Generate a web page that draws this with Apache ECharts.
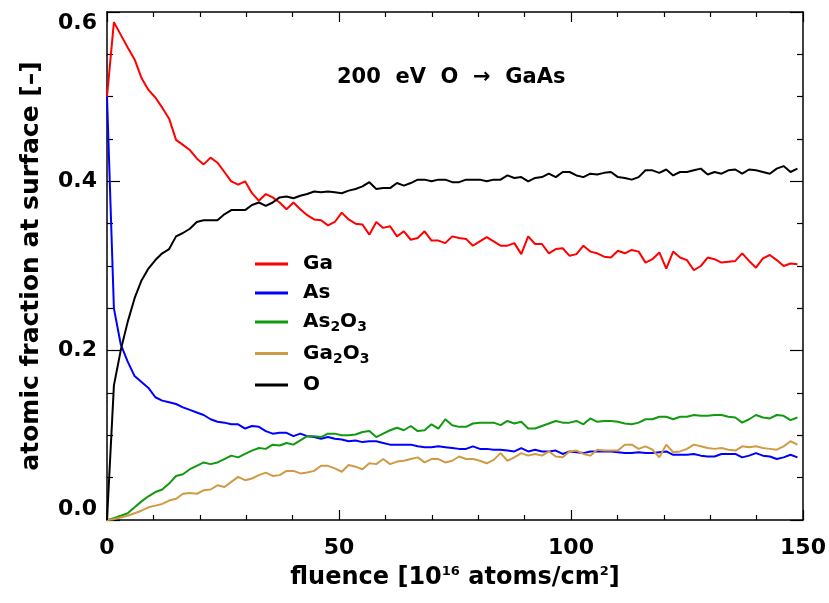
<!DOCTYPE html>
<html>
<head>
<meta charset="utf-8">
<script src="https://cdn.jsdelivr.net/npm/echarts@6/dist/echarts.min.js"></script>
<style>
  html, body { margin: 0; padding: 0; background: #fff; }
  #chart { width: 829px; height: 603px; }
</style>
</head>
<body>
<div id="chart"></div>
<script>
// fluence grid [10^16 atoms/cm^2], one value per output step
const fluence = [
  0, 1.49, 2.98, 4.46, 5.95, 7.44, 8.93, 10.42, 11.9, 13.39,
  14.88, 16.37, 17.86, 19.34, 20.83, 22.32, 23.81, 25.3, 26.78, 28.27,
  29.76, 31.25, 32.74, 34.22, 35.71, 37.2, 38.69, 40.18, 41.66, 43.15,
  44.64, 46.13, 47.62, 49.1, 50.59, 52.08, 53.57, 55.06, 56.54, 58.03,
  59.52, 61.01, 62.5, 63.98, 65.47, 66.96, 68.45, 69.94, 71.42, 72.91,
  74.4, 75.89, 77.38, 78.86, 80.35, 81.84, 83.33, 84.82, 86.3, 87.79,
  89.28, 90.77, 92.26, 93.74, 95.23, 96.72, 98.21, 99.7, 101.18, 102.67,
  104.16, 105.65, 107.14, 108.62, 110.11, 111.6, 113.09, 114.58, 116.06, 117.55,
  119.04, 120.53, 122.02, 123.5, 124.99, 126.48, 127.97, 129.46, 130.94, 132.43,
  133.92, 135.41, 136.9, 138.38, 139.87, 141.36, 142.85, 144.34, 145.82, 147.31,
  148.8
]

const gaFrac = [
  0.500, 0.588, 0.573, 0.558, 0.544, 0.522, 0.508, 0.499, 0.487, 0.474,
  0.449, 0.443, 0.437, 0.427, 0.420, 0.428, 0.422, 0.411, 0.400, 0.396,
  0.400, 0.386, 0.377, 0.385, 0.381, 0.375, 0.367, 0.375, 0.367, 0.360,
  0.355, 0.354, 0.348, 0.352, 0.363, 0.355, 0.350, 0.349, 0.337, 0.352,
  0.345, 0.347, 0.335, 0.341, 0.331, 0.333, 0.341, 0.330, 0.330, 0.327,
  0.335, 0.333, 0.332, 0.324, 0.329, 0.334, 0.329, 0.324, 0.324, 0.327,
  0.314, 0.335, 0.326, 0.326, 0.315, 0.320, 0.321, 0.312, 0.314, 0.324,
  0.317, 0.315, 0.311, 0.310, 0.318, 0.315, 0.319, 0.317, 0.304, 0.308,
  0.316, 0.297, 0.317, 0.310, 0.307, 0.295, 0.300, 0.310, 0.308, 0.304,
  0.305, 0.306, 0.315, 0.306, 0.298, 0.309, 0.313, 0.307, 0.300, 0.303,
  0.302
]

const asFrac = [
  0.500, 0.250, 0.207, 0.187, 0.170, 0.163, 0.156, 0.145, 0.141, 0.139,
  0.137, 0.133, 0.130, 0.127, 0.124, 0.119, 0.116, 0.115, 0.113, 0.113,
  0.108, 0.111, 0.110, 0.105, 0.102, 0.103, 0.103, 0.099, 0.102, 0.099,
  0.098, 0.096, 0.098, 0.096, 0.095, 0.093, 0.094, 0.092, 0.093, 0.093,
  0.091, 0.089, 0.089, 0.089, 0.089, 0.087, 0.086, 0.086, 0.087, 0.086,
  0.085, 0.084, 0.084, 0.087, 0.084, 0.084, 0.083, 0.083, 0.082, 0.081,
  0.085, 0.081, 0.083, 0.081, 0.081, 0.082, 0.078, 0.081, 0.080, 0.079,
  0.081, 0.081, 0.081, 0.081, 0.080, 0.079, 0.079, 0.080, 0.079, 0.079,
  0.080, 0.081, 0.077, 0.077, 0.077, 0.078, 0.076, 0.075, 0.075, 0.078,
  0.078, 0.078, 0.074, 0.076, 0.079, 0.076, 0.075, 0.072, 0.074, 0.077,
  0.074
]

const as2o3Frac = [
  0.000, 0.002, 0.005, 0.008, 0.015, 0.022, 0.028, 0.033, 0.036, 0.043,
  0.052, 0.054, 0.060, 0.064, 0.068, 0.066, 0.068, 0.072, 0.076, 0.074,
  0.078, 0.082, 0.085, 0.084, 0.089, 0.088, 0.091, 0.089, 0.094, 0.099,
  0.099, 0.098, 0.102, 0.102, 0.100, 0.100, 0.101, 0.104, 0.105, 0.098,
  0.102, 0.106, 0.109, 0.106, 0.111, 0.105, 0.106, 0.113, 0.108, 0.119,
  0.112, 0.110, 0.110, 0.114, 0.115, 0.115, 0.115, 0.112, 0.117, 0.114,
  0.116, 0.108, 0.108, 0.111, 0.114, 0.117, 0.115, 0.115, 0.117, 0.113,
  0.120, 0.116, 0.117, 0.117, 0.116, 0.114, 0.113, 0.115, 0.119, 0.119,
  0.122, 0.122, 0.119, 0.122, 0.122, 0.124, 0.123, 0.123, 0.124, 0.124,
  0.122, 0.121, 0.115, 0.119, 0.124, 0.121, 0.120, 0.124, 0.123, 0.118,
  0.121
]

const ga2o3Frac = [
  0.000, 0.001, 0.003, 0.005, 0.008, 0.011, 0.015, 0.017, 0.019, 0.023,
  0.025, 0.031, 0.032, 0.031, 0.035, 0.036, 0.041, 0.039, 0.045, 0.051,
  0.047, 0.049, 0.053, 0.056, 0.052, 0.053, 0.058, 0.058, 0.055, 0.056,
  0.058, 0.064, 0.064, 0.061, 0.057, 0.065, 0.063, 0.060, 0.067, 0.066,
  0.072, 0.066, 0.069, 0.070, 0.072, 0.074, 0.068, 0.072, 0.072, 0.068,
  0.070, 0.075, 0.072, 0.072, 0.070, 0.067, 0.071, 0.079, 0.070, 0.074,
  0.079, 0.076, 0.078, 0.076, 0.081, 0.075, 0.074, 0.081, 0.082, 0.078,
  0.076, 0.083, 0.082, 0.082, 0.082, 0.089, 0.089, 0.084, 0.087, 0.083,
  0.074, 0.089, 0.080, 0.081, 0.084, 0.089, 0.087, 0.085, 0.084, 0.085,
  0.083, 0.082, 0.087, 0.086, 0.087, 0.085, 0.084, 0.083, 0.087, 0.093,
  0.089
]

const oFrac = [
  0.000, 0.159, 0.201, 0.234, 0.262, 0.283, 0.297, 0.307, 0.315, 0.320,
  0.335, 0.339, 0.344, 0.352, 0.354, 0.354, 0.354, 0.361, 0.366, 0.366,
  0.366, 0.372, 0.375, 0.371, 0.375, 0.381, 0.382, 0.380, 0.383, 0.385,
  0.388, 0.387, 0.388, 0.387, 0.386, 0.389, 0.391, 0.394, 0.399, 0.391,
  0.392, 0.392, 0.398, 0.395, 0.398, 0.402, 0.402, 0.400, 0.402, 0.402,
  0.399, 0.399, 0.402, 0.402, 0.402, 0.400, 0.402, 0.402, 0.407, 0.404,
  0.405, 0.400, 0.404, 0.405, 0.409, 0.405, 0.411, 0.411, 0.407, 0.405,
  0.409, 0.408, 0.410, 0.411, 0.405, 0.404, 0.402, 0.405, 0.413, 0.413,
  0.410, 0.414, 0.407, 0.411, 0.411, 0.413, 0.415, 0.408, 0.411, 0.409,
  0.413, 0.414, 0.409, 0.414, 0.413, 0.411, 0.409, 0.415, 0.418, 0.411,
  0.415
]

const seriesNames = ['Ga', 'As', 'As2O3', 'Ga2O3', 'O']
const seriesColors = ['#ff0000', '#0000ff', '#109a10', '#cf9b45', '#000000']
const seriesValues = [gaFrac, asFrac, as2o3Frac, ga2o3Frac, oFrac]

const xTicks = [0, 50, 100, 150]
const yTicks = [0, 0.2, 0.4, 0.6]

const FONT = 'DejaVu Sans'

const chart = echarts.init(document.getElementById('chart'))

function axisBase(opts) {
  return Object.assign({
    type: 'value',
    axisLine: { show: true, onZero: false, lineStyle: { color: '#000', width: 1.5 } },
    splitLine: { show: false },
    minorSplitLine: { show: false },
  }, opts)
}

const tickLine = { color: '#000', width: 1.2 }
const labelStyle = { color: '#000', fontFamily: FONT, fontWeight: 'bold', fontSize: 22 }

const option = {
  animation: false,
  backgroundColor: '#fff',
  title: {
    text: '200  eV  O  \u2192  GaAs',
    left: 337,
    top: 67,
    padding: 0,
    textStyle: { color: '#000', fontFamily: FONT, fontWeight: 'bold', fontSize: 21 },
  },
  legend: {
    orient: 'vertical',
    left: 255,
    top: 254,
    padding: 0,
    itemGap: 9,
    itemWidth: 33,
    itemHeight: 3,
    icon: 'rect',
    data: seriesNames,
    formatter: (name) => name.replace(/(\d)/g, '{sub|$1}'),
    textStyle: {
      color: '#000', fontFamily: FONT, fontWeight: 'bold', fontSize: 20,
      padding: [0, 0, 0, 10],
      rich: {
        sub: { fontFamily: FONT, fontWeight: 'bold', fontSize: 14, padding: [11, 0, 0, 0] },
      },
    },
  },
  grid: { left: 107, right: 26, top: 12, bottom: 83, containLabel: false },
  xAxis: [
    axisBase({
      position: 'bottom', min: 0, max: 150, interval: 50,
      axisTick: { show: true, inside: true, length: 10, lineStyle: tickLine },
      minorTick: { show: true, splitNumber: 5, length: 5, lineStyle: tickLine },
      axisLabel: Object.assign({ margin: 17, formatter: (v) => (xTicks.includes(v) ? String(v) : '') }, labelStyle),
      name: 'fluence [10{sup|16} atoms/cm{sup|2}]',
      nameLocation: 'middle',
      nameGap: 45,
      nameTextStyle: Object.assign({}, labelStyle, {
        fontSize: 24,
        rich: { sup: { fontFamily: FONT, fontWeight: 'bold', fontSize: 13, padding: [0, 0, 13, 0] } },
      }),
    }),
    axisBase({
      position: 'top', min: 0, max: 150, interval: 50,
      axisTick: { show: true, inside: true, length: 10, lineStyle: tickLine },
      minorTick: { show: true, splitNumber: 5, length: 5, lineStyle: tickLine },
      axisLabel: { show: false },
    }),
  ],
  yAxis: [
    axisBase({
      position: 'left', min: 0, max: 0.6, interval: 0.2,
      axisTick: { show: true, inside: true, length: 13, lineStyle: tickLine },
      minorTick: { show: true, splitNumber: 4, length: 6, lineStyle: tickLine },
      axisLabel: Object.assign({
        margin: 10,
        verticalAlignMinLabel: 'bottom',
        verticalAlignMaxLabel: 'top',
        formatter: (v) => (yTicks.some((t) => Math.abs(t - v) < 1e-9) ? v.toFixed(1) : ''),
      }, labelStyle),
      name: 'atomic fraction at surface [\u2013]',
      nameLocation: 'middle',
      nameGap: 63,
      nameTextStyle: Object.assign({}, labelStyle, { fontSize: 25 }),
    }),
    axisBase({
      position: 'right', min: 0, max: 0.6, interval: 0.2,
      axisTick: { show: true, inside: true, length: 13, lineStyle: tickLine },
      minorTick: { show: true, splitNumber: 4, length: 6, lineStyle: tickLine },
      axisLabel: { show: false },
    }),
  ],
  series: seriesNames.map((name, k) => ({
    name,
    type: 'line',
    xAxisIndex: 0,
    yAxisIndex: 0,
    showSymbol: false,
    symbol: 'none',
    color: seriesColors[k],
    lineStyle: { color: seriesColors[k], width: 2 },
    itemStyle: { color: seriesColors[k] },
    data: fluence.map((f, i) => [f, seriesValues[k][i]]),
  })),
}

chart.setOption(option)
</script>
</body>
</html>
